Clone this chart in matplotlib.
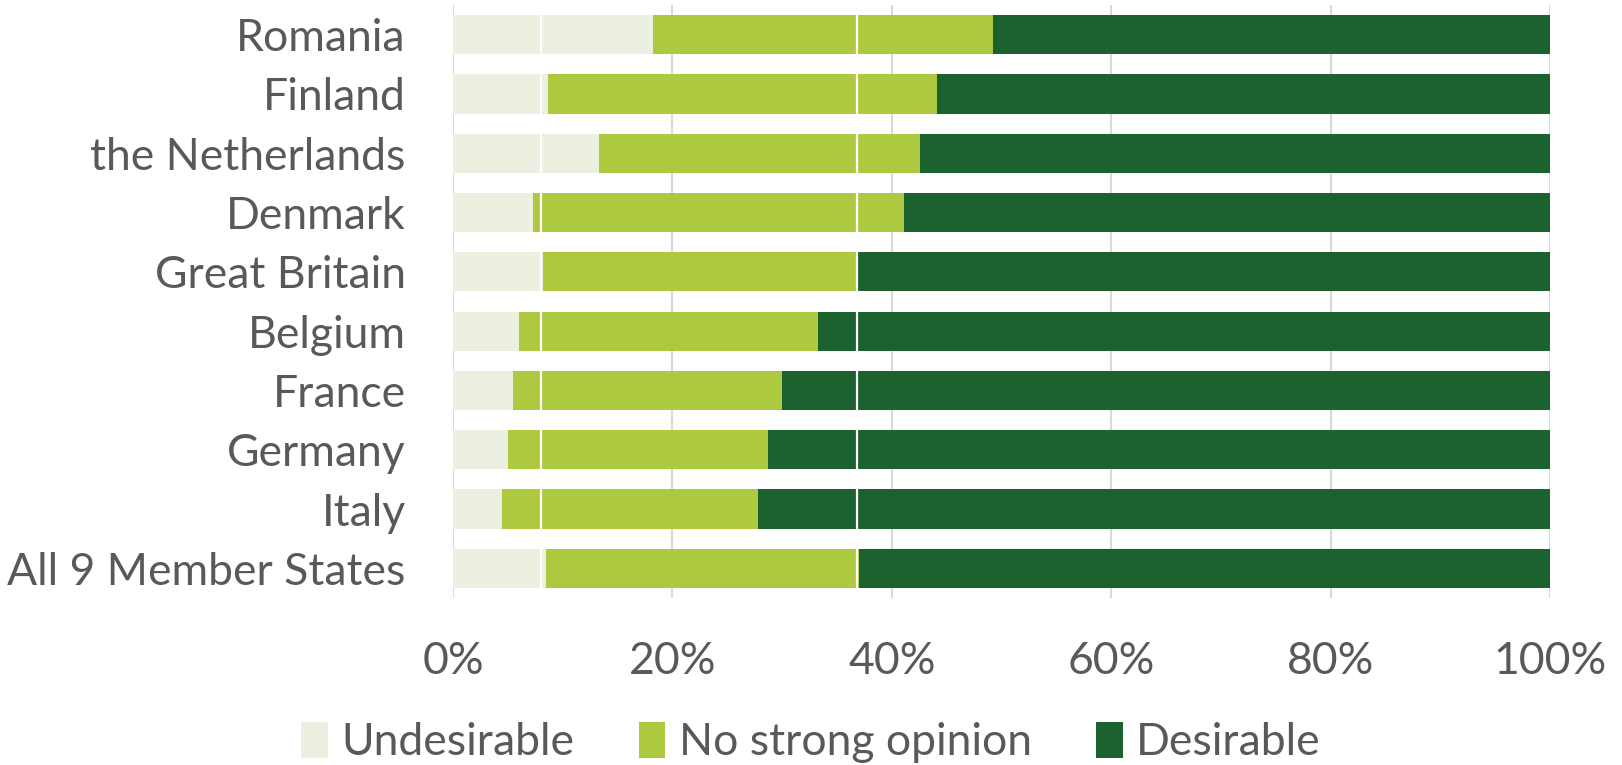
import numpy as np
import matplotlib.pyplot as plt
from matplotlib.patches import Patch

# Share of answers per country (percent), top to bottom as in the chart
countries = ['Romania', 'Finland', 'the Netherlands', 'Denmark', 'Great Britain',
             'Belgium', 'France', 'Germany', 'Italy', 'All 9 Member States']
undesirable = [18.2, 8.7, 13.3, 7.3, 8.2, 6.0, 5.5, 5.0, 4.5, 8.5]
no_opinion_end = [49.2, 44.1, 42.6, 41.1, 36.7, 33.3, 30.0, 28.7, 27.8, 37.0]  # cumulative
no_opinion = [e - u for e, u in zip(no_opinion_end, undesirable)]
desirable = [100 - e for e in no_opinion_end]

# white marker lines that run across all bars (average split points)
avg_marks = [8.0, 36.8]

series = ['Undesirable', 'No strong opinion', 'Desirable']
colors = ['#EBF0E0', '#ADC93F', '#1C622E']
txt = '#595959'

plt.rcParams['font.family'] = ['Lato', 'DejaVu Sans']

fig = plt.figure(figsize=(16.22, 7.65), dpi=100)
ax = fig.add_axes([453/1622, 167/765, 1097/1622, 593/765])

y = np.arange(len(countries))[::-1]
h = 0.66
ax.barh(y, undesirable, height=h, color=colors[0], zorder=2)
ax.barh(y, no_opinion, left=undesirable, height=h, color=colors[1], zorder=2)
ax.barh(y, desirable, left=no_opinion_end, height=h, color=colors[2], zorder=2)
for m in avg_marks:
    ax.axvline(m, color='white', lw=1.6, zorder=3)

ax.set_xlim(0, 100)
ax.set_ylim(-0.5, len(countries) - 0.5)
ax.set_xticks(np.arange(0, 101, 20))
ax.set_xticklabels([f'{v}%' for v in range(0, 101, 20)])
ax.set_yticks(y)
ax.set_yticklabels(countries)
ax.tick_params(axis='both', length=0, labelsize=32, labelcolor=txt)
ax.tick_params(axis='x', pad=31)
ax.tick_params(axis='y', pad=34)
ax.grid(axis='x', color='#D9D9D9', lw=1.5, zorder=0)
for s in ax.spines.values():
    s.set_visible(False)

handles = [Patch(facecolor=c, label=s) for c, s in zip(colors, series)]
fig.legend(handles=handles, loc='lower center', bbox_to_anchor=(0.5, -0.05), ncol=3,
           frameon=False, fontsize=32, labelcolor=txt, handlelength=0.6, handleheight=0.85,
           handletextpad=0.3, columnspacing=1.45)

fig.savefig('out.png', dpi=100)
